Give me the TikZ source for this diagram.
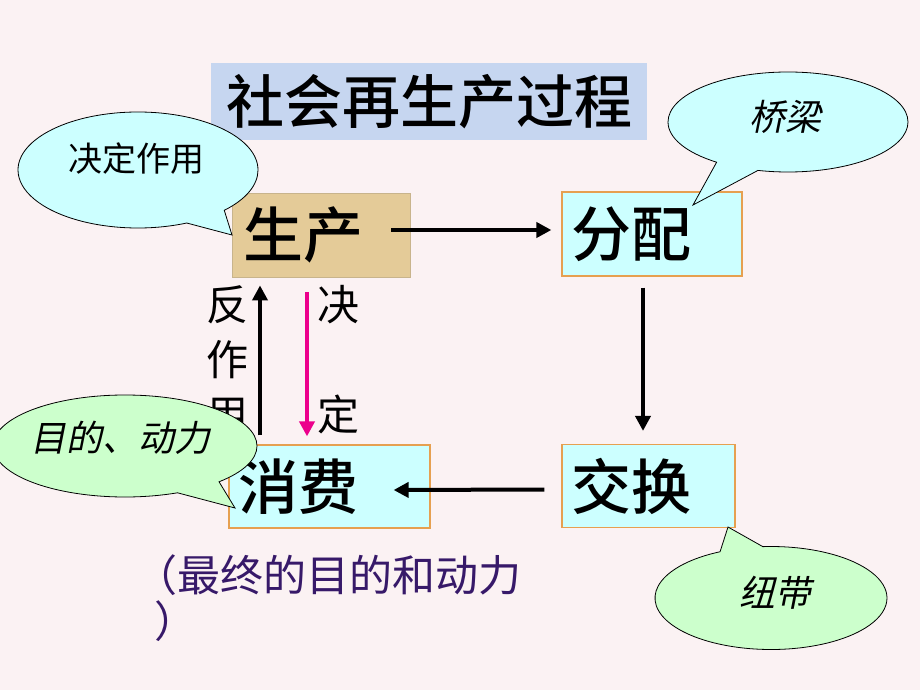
\documentclass[tikz,border=0pt]{standalone}
\usepackage{fontspec}
\setmainfont{Noto Sans CJK SC}
\IfFontExistsTF{Noto Sans CJK SC Medium}
  {\newfontfamily\heavy{Noto Sans CJK SC Medium}}
  {\newfontfamily\heavy{Noto Sans CJK SC}[FakeBold=1.2]}
\newfontfamily\cjki[FakeSlant=0.2]{Noto Sans CJK SC}
\usetikzlibrary{shapes.callouts,arrows.meta}
\definecolor{bgpink}{RGB}{251,242,243}
\definecolor{titleblue}{RGB}{198,214,240}
\definecolor{tanfill}{RGB}{228,203,152}
\definecolor{tanedge}{RGB}{200,180,140}
\definecolor{cyanfill}{RGB}{204,255,255}
\definecolor{greenfill}{RGB}{204,255,204}
\definecolor{boxedge}{RGB}{230,160,80}
\definecolor{purpletext}{RGB}{55,25,105}
\tikzset{
  box/.style={draw=boxedge, line width=1.2pt, fill=cyanfill, inner xsep=9pt, inner ysep=0pt,
    align=left, font=\heavy\fontsize{60}{60}\selectfont},
  arr/.style={line width=4pt, -{Triangle[length=15pt,width=15pt]}},
  bubble/.style={ellipse callout, draw=black, line width=0.8pt, inner sep=0pt, callout pointer arc=22},
  bubtext/.style={font=\cjki\fontsize{36}{36}\selectfont},
  lab/.style={align=center, font=\fontsize{42}{55}\selectfont}
}
\begin{document}
\begin{tikzpicture}[x=1pt,y=-1pt]
\fill[bgpink] (0,0) rectangle (920,690);
\useasboundingbox (0,0) rectangle (920,690);

\node[fill=titleblue, minimum width=436pt, minimum height=77pt, inner sep=0pt,
  font=\heavy\fontsize{58}{58}\selectfont] (title) at (429,101.5) {社会再生产过程};

\node[box, fill=tanfill, draw=tanedge, line width=0.8pt, inner xsep=11pt, text width=156pt, minimum height=84pt] (sc) at (321,235) {生产};
\node[box, text width=162pt, minimum height=84pt] (fp) at (652,234) {分配};
\node[box, text width=155pt, minimum height=83pt] (jh) at (648.5,486) {交换};
\node[box, text width=183pt, minimum height=83pt] (xf) at (329.5,486.5) {消费};

\draw[arr] ([xshift=-19pt,yshift=5pt]sc.east) -- ([xshift=-10pt,yshift=4pt]fp.west);
\draw[arr] ([xshift=-9pt,yshift=-11pt]fp.south) -- ([xshift=-5.5pt,yshift=13pt]jh.north);
\draw[arr] ([xshift=-17pt,yshift=-3.5pt]jh.west) -- ([xshift=-37pt,yshift=-3.5pt]xf.east);
\draw[arr] ([xshift=-69.5pt,yshift=9pt]xf.north) -- ([xshift=-61pt,yshift=-8pt]sc.south);
\draw[arr, magenta] ([xshift=-14pt,yshift=-15pt]sc.south) -- ([xshift=-22.5pt,yshift=8pt]xf.north);

\node[lab] (fzy) at (227,360) {反\\作\\用};
\node[lab] (jd) at (338,360) {决\\[55pt]定};

\node[bubble, fill=cyanfill, minimum width=240pt, minimum height=116pt,
  callout absolute pointer={(232,235)}] (c1) at (138,170) {};
\node[font=\fontsize{34}{34}\selectfont] (c1t) at (136,159) {决定作用};

\node[bubble, fill=cyanfill, minimum width=240pt, minimum height=100pt,
  callout absolute pointer={(693,205)}] (c2) at (788,122) {};
\node[bubtext] (c2t) at (785,117) {桥梁};

\node[bubble, fill=greenfill, minimum width=264pt, minimum height=102pt,
  callout absolute pointer={(235,508)}] (c3) at (125,446) {};
\node[bubtext] (c3t) at (120,438) {目的、动力};

\node[bubble, fill=greenfill, minimum width=232pt, minimum height=103pt,
  callout absolute pointer={(728,527)}] (c4) at (771,598) {};
\node[bubtext] (c4t) at (775,593) {纽带};

\node[anchor=north west, align=left, text=purpletext, inner sep=0pt,
  font=\fontsize{43}{46}\selectfont] (note) at (134,554) {（最终的目的和动力\\\hspace*{20pt}）};
\end{tikzpicture}
\end{document}
